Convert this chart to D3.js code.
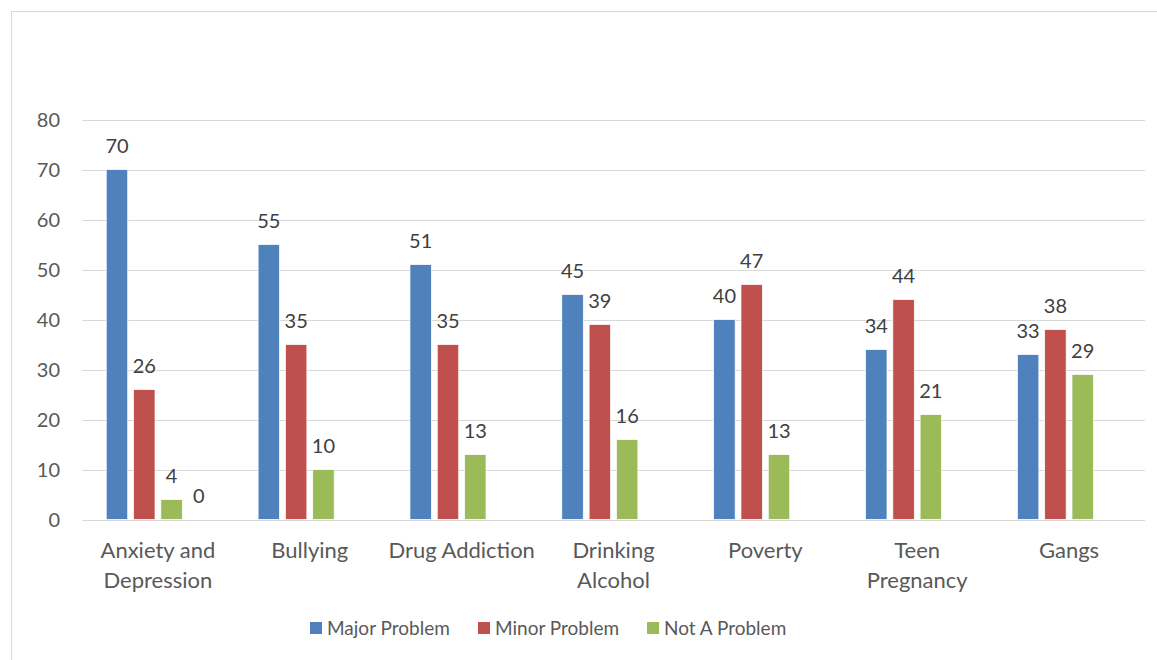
<!DOCTYPE html>
<html>
<head>
<meta charset="utf-8">
<script src="https://cdn.jsdelivr.net/npm/d3@7"></script>
<style>
  html, body { margin: 0; padding: 0; background: #fff; }
  svg { display: block; }
  text { font-family: Lato, "Open Sans", sans-serif; }
</style>
</head>
<body>
<svg id="chart" width="1157" height="660"></svg>
<script>
const categories = ["Anxiety and\nDepression", "Bullying", "Drug Addiction", "Drinking\nAlcohol", "Poverty", "Teen\nPregnancy", "Gangs"];
const seriesNames = ["Major Problem", "Minor Problem", "Not A Problem", "Other"];
const majorProblem = [70, 55, 51, 45, 40, 34, 33];
const minorProblem = [26, 35, 35, 39, 47, 44, 38];
const notAProblem  = [4, 10, 13, 16, 13, 21, 29];
const otherSeries  = [0, null, null, null, null, null, null];
const seriesColors = ["#4F81BD", "#C0504D", "#9BBB59", "#8064A2"];
const legendSeries = ["Major Problem", "Minor Problem", "Not A Problem"];
const yTicks = [0, 10, 20, 30, 40, 50, 60, 70, 80];

const seriesValues = [majorProblem, minorProblem, notAProblem, otherSeries];

const svg = d3.select("#chart");
const W = 1157, H = 660;

// chart frame
svg.append("rect").attr("x", 11.5).attr("y", 11.5).attr("width", W + 20).attr("height", H + 20)
  .attr("fill", "none").attr("stroke", "#d9d9d9").attr("stroke-width", 1);

const plot = { left: 82, right: 1145, top: 119.5, bottom: 519.5 };

const y = d3.scaleLinear().domain([0, 80]).range([plot.bottom, plot.top]);
const x0 = d3.scaleBand().domain(categories).range([plot.left, plot.right]).paddingInner(0).paddingOuter(0);
const bw = x0.bandwidth();
const step = 27.3, barW = 21.5;
const groupW = step * seriesNames.length - (step - barW);
const x1 = d3.scaleBand().domain(seriesNames)
  .range([(bw - groupW) / 2 - (step - barW) / 2, (bw + groupW) / 2 + (step - barW) / 2])
  .paddingInner((step - barW) / step).paddingOuter((step - barW) / step / 2);

// gridlines
svg.append("g").selectAll("line").data(yTicks).join("line")
  .attr("x1", plot.left).attr("x2", plot.right)
  .attr("y1", d => Math.round(y(d)) + 0.5).attr("y2", d => Math.round(y(d)) + 0.5)
  .attr("stroke", "#d9d9d9").attr("stroke-width", 1);

// y tick labels
svg.append("g").selectAll("text").data(yTicks).join("text")
  .attr("x", 60).attr("y", d => y(d)).attr("dy", "0.35em")
  .attr("text-anchor", "end").attr("font-size", 20).attr("fill", "#595959")
  .text(d => d);

// bars
const data = [];
categories.forEach((c, i) => {
  seriesNames.forEach((s, j) => {
    const v = seriesValues[j][i];
    if (v !== null && v !== undefined) data.push({ c, s, v, color: seriesColors[j] });
  });
});

const g = svg.append("g");
g.selectAll("rect").data(data).join("rect")
  .attr("x", d => x0(d.c) + x1(d.s))
  .attr("y", d => y(d.v))
  .attr("width", x1.bandwidth())
  .attr("height", d => y(0) - y(d.v))
  .attr("fill", d => d.color)
  .attr("stroke", "#fff").attr("stroke-width", 0.75);

// value labels
g.selectAll("text").data(data).join("text")
  .attr("x", d => x0(d.c) + x1(d.s) + x1.bandwidth() / 2)
  .attr("y", d => y(d.v) - 17)
  .attr("text-anchor", "middle").attr("font-size", 20).attr("fill", "#404040")
  .text(d => d.v);

// category labels
const cl = svg.append("g");
categories.forEach(c => {
  const lines = c.split("\n");
  const t = cl.append("text").attr("text-anchor", "middle").attr("font-size", 22).attr("fill", "#595959");
  lines.forEach((ln, k) => {
    t.append("tspan").attr("x", x0(c) + bw / 2).attr("y", 558 + k * 30).text(ln);
  });
});

// legend
const legendX = [310, 478, 647];
const lg = svg.append("g");
legendSeries.forEach((s, i) => {
  lg.append("rect").attr("x", legendX[i]).attr("y", 622).attr("width", 12).attr("height", 12)
    .attr("fill", seriesColors[i]);
  lg.append("text").attr("x", legendX[i] + 17).attr("y", 628.5).attr("dy", "0.35em")
    .attr("font-size", 19).attr("fill", "#595959").text(s);
});
</script>
</body>
</html>
